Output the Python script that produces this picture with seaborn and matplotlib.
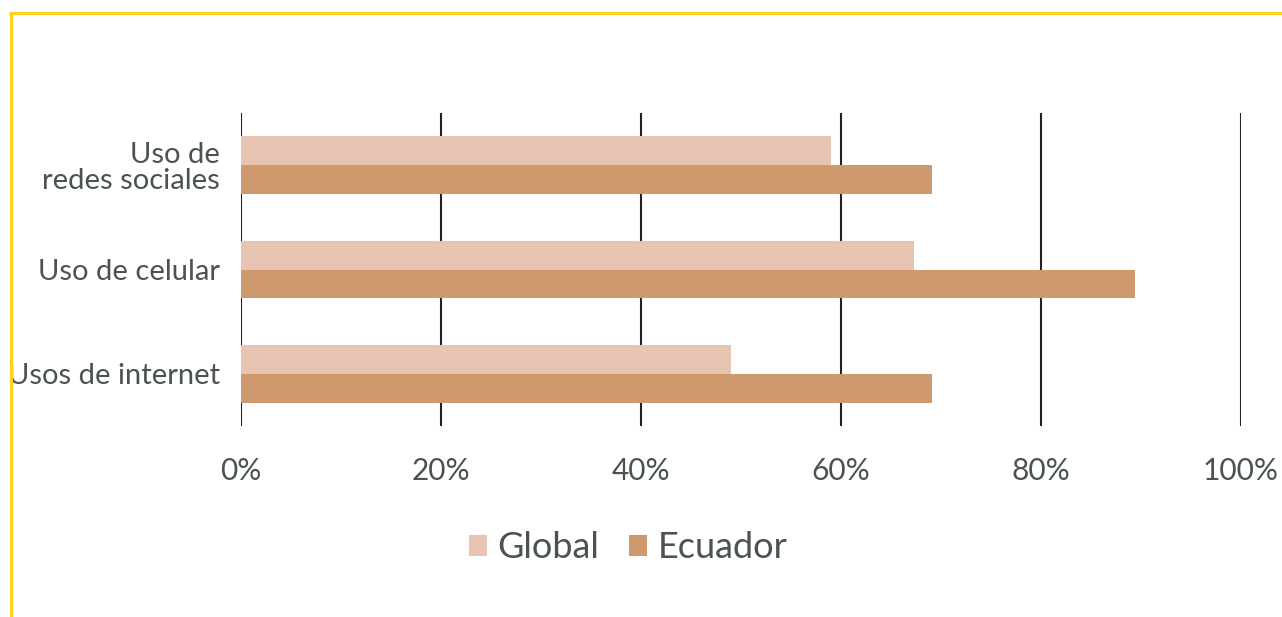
import matplotlib
matplotlib.use("Agg")
import matplotlib.pyplot as plt
from matplotlib.lines import Line2D
from matplotlib.patches import Patch
import seaborn as sns
import pandas as pd

categories = ["Uso de\nredes sociales", "Uso de celular", "Usos de internet"]
global_vals = [59, 67.3, 49]
ecuador_vals = [69.1, 89.4, 69.1]
series_names = ["Global", "Ecuador"]
xtick_vals = [0, 20, 40, 60, 80, 100]
xtick_labels = ["0%", "20%", "40%", "60%", "80%", "100%"]

colors = ["#E6C4B1", "#CE9A6D"]
text_color = "#4A5252"

sns.set_theme(style="white")
plt.rcParams["font.family"] = ["Lato", "DejaVu Sans"]

df = pd.DataFrame({
    "cat": categories * 2,
    "val": global_vals + ecuador_vals,
    "serie": [series_names[0]] * 3 + [series_names[1]] * 3,
})

W, H = 1282, 617
fig = plt.figure(figsize=(W / 100, H / 100), dpi=100)
ax = fig.add_axes([241 / W, 1 - 426 / H, 1000 / W, 313 / H])

sns.barplot(data=df, y="cat", x="val", hue="serie", orient="h",
            palette=colors, width=0.55, saturation=1, ax=ax, legend=False,
            linewidth=0, edgecolor="none", zorder=3)

ax.set_xlim(0, 100)
ax.set_ylim(2.5, -0.5)
ax.set_xticks(xtick_vals)
ax.set_xticklabels(xtick_labels)
for v in xtick_vals:
    ax.axvline(v, color="#222222", lw=1.5, zorder=1)
for s in ax.spines.values():
    s.set_visible(False)
ax.set_xlabel("")
ax.set_ylabel("")
ax.tick_params(axis="x", length=0, pad=22, labelsize=21.5, labelcolor=text_color)
ax.tick_params(axis="y", length=0, pad=15, labelsize=21, labelcolor=text_color)
for lab in ax.get_yticklabels():
    lab.set_linespacing(1.0)
    lab.set_horizontalalignment("right")

handles = [Patch(facecolor=c, edgecolor="none") for c in colors]
fig.legend(handles, series_names, loc="center", bbox_to_anchor=(628 / W, 1 - 548 / H),
           ncol=2, frameon=False, fontsize=26, labelcolor=text_color,
           handlelength=0.5, handleheight=0.5, handletextpad=0.3, columnspacing=0.8)

yellow = "#FFD21F"
fig.add_artist(Line2D([10 / W, 1], [1 - 13 / H, 1 - 13 / H], color=yellow, lw=2.2,
                      transform=fig.transFigure))
fig.add_artist(Line2D([11 / W, 11 / W], [0, 1 - 13 / H], color=yellow, lw=2.2,
                      transform=fig.transFigure))

fig.savefig("out.png", dpi=100, facecolor="white")
